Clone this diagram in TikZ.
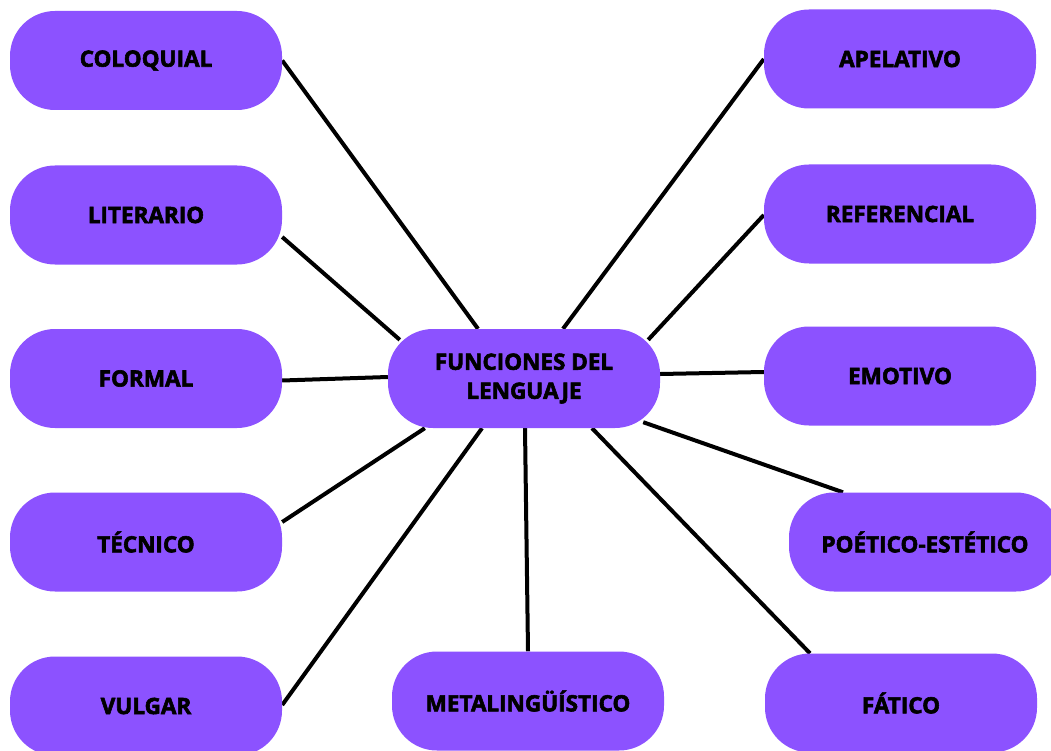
\documentclass[tikz,border=0pt]{standalone}
\usepackage{fontspec}
\setmainfont{Open Sans}[BoldFeatures={FakeBold=2.5}]
\usetikzlibrary{calc}
\pgfdeclarelayer{bg}
\pgfsetlayers{bg,main}
\definecolor{boxpurple}{HTML}{8C52FF}
\tikzset{
  box/.style={fill=boxpurple, draw=none, rounded corners=45pt,
    minimum width=272pt, minimum height=99pt, inner sep=0pt,
    font=\fontsize{22.5}{29}\selectfont\bfseries, text=black, align=center},
  link/.style={draw=black, line width=4pt}
}
\begin{document}
\begin{tikzpicture}[x=1pt,y=-1pt]
\useasboundingbox (0,0) rectangle (1051,751);
% left column
\node[box] (col)  at (146,60.5) {COLOQUIAL};
\node[box] (lit)  at (146,215) {LITERARIO};
\node[box] (form) at (146,378.5) {FORMAL};
\node[box] (tec)  at (146,542) {TÉCNICO};
\node[box] (vul)  at (146,706) {VULGAR};
% bottom middle
\node[box] (meta) at (528,701) {METALINGÜÍSTICO};
% right column
\node[box] (ape)  at (900,59) {APELATIVO};
\node[box] (ref)  at (900,214) {REFERENCIAL};
\node[box] (emo)  at (900,376) {EMOTIVO};
\node[box] (poe)  at (925,542) {POÉTICO-ESTÉTICO};
\node[box] (fat)  at (901,703) {FÁTICO};
% center
\node[box] (fun)  at (524,378.5) {FUNCIONES DEL\\LENGUAJE};
\begin{pgfonlayer}{bg}
\fill[white] (0,0) rectangle (1051,751);
\draw[link] (col.east) -- ($(fun.north)+(-46,0)$);
\draw[link] ($(lit.east)+(0,22)$) -- ($(fun.north west)+(12,11)$);
\draw[link] ($(form.east)+(0,2)$) -- ($(fun.west)+(0,-1.5)$);
\draw[link] ($(tec.east)+(0,-20)$) -- ($(fun.south west)+(37,0)$);
\draw[link] ($(vul.east)+(0,-1)$) -- ($(fun.south)+(-42,0)$);
\draw[link] (meta.north) -- ($(fun.south)+(1,0)$);
\draw[link] ($(fat.north)+(-91,0)$) -- ($(fun.south)+(68,0)$);
\draw[link] ($(poe.north)+(-82,0)$) -- ($(fun.south east)+(-17,-6)$);
\draw[link] ($(emo.west)+(0,-4)$) -- ($(fun.east)+(0,-4.5)$);
\draw[link] ($(ref.west)+(0,1)$) -- ($(fun.north east)+(-12,11)$);
\draw[link] (ape.west) -- ($(fun.north)+(39,0)$);
\end{pgfonlayer}
\end{tikzpicture}
\end{document}
